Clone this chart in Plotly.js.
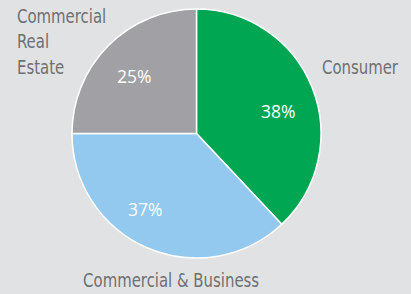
<!DOCTYPE html>
<html><head><meta charset="utf-8">
<script src="https://cdn.plot.ly/plotly-3.0.1.min.js"></script>
<style>html,body{margin:0;padding:0;background:#e1e2e4;}#chart{width:411px;height:294px;}</style>
</head><body><div id="chart"></div>
<script>
const categories = ["Consumer", "Commercial & Business", "Commercial<br>Real<br>Estate"];
const values = [38, 37, 25];
const colors = ["#00a651", "#93c9ee", "#a1a1a5"];

const total = values.reduce((a, b) => a + b, 0);
const pctText = values.map(v => Math.round(v / total * 100) + "%");

const labelFont = {family: "DejaVu Sans", size: 19.5, color: "#6f7073"};
const pctFont = {family: "Open Sans", size: 17.5, color: "#ffffff", weight: 500};

const catPos = [
  {x: 0.7786, y: 0.769, xanchor: "left", yanchor: "middle", align: "left"},
  {x: 0.417, y: 0.047, xanchor: "center", yanchor: "middle", align: "center"},
  {x: 0.036, y: 0.99, xanchor: "left", yanchor: "top", align: "left"}
];
const pctPos = [
  {x: 278 / 411, y: 1 - 110.5 / 294},
  {x: 144.5 / 411, y: 1 - 209 / 294},
  {x: 134 / 411, y: 1 - 75.5 / 294}
];
const annotations = [];
categories.forEach((c, i) => annotations.push(Object.assign({text: c, xref: "paper", yref: "paper", showarrow: false, font: labelFont}, catPos[i])));
pctText.forEach((t, i) => annotations.push(Object.assign({text: t, xref: "paper", yref: "paper", showarrow: false, font: pctFont, xanchor: "center", yanchor: "middle"}, pctPos[i])));

Plotly.newPlot("chart", [{
  type: "pie",
  labels: categories,
  values: values,
  sort: false,
  direction: "clockwise",
  rotation: 0,
  marker: {colors: colors, line: {color: "#ffffff", width: 1.5}},
  textinfo: "none",
  hoverinfo: "none",
  domain: {x: [0.1752, 0.781], y: [0.1207, 0.9711]}
}], {
  width: 411, height: 294,
  margin: {l: 0, r: 0, t: 0, b: 0},
  paper_bgcolor: "#e1e2e4",
  plot_bgcolor: "#e1e2e4",
  showlegend: false,
  annotations: annotations
}, {staticPlot: true}).then(gd => {
  const squeeze = 0.85;
  gd.querySelectorAll(".annotation").forEach((el, i) => {
    if (i >= categories.length) return;
    el.querySelectorAll("text").forEach(t => {
      t.style.fontStretch = "condensed";
      const lines = t.querySelectorAll("tspan.line");
      const targets = lines.length ? Array.from(lines) : [t];
      targets.forEach(s => {
        const w = s.getComputedTextLength();
        s.setAttribute("textLength", (w * squeeze).toFixed(1));
        s.setAttribute("lengthAdjust", "spacingAndGlyphs");
      });
    });
  });
});
</script></body></html>
